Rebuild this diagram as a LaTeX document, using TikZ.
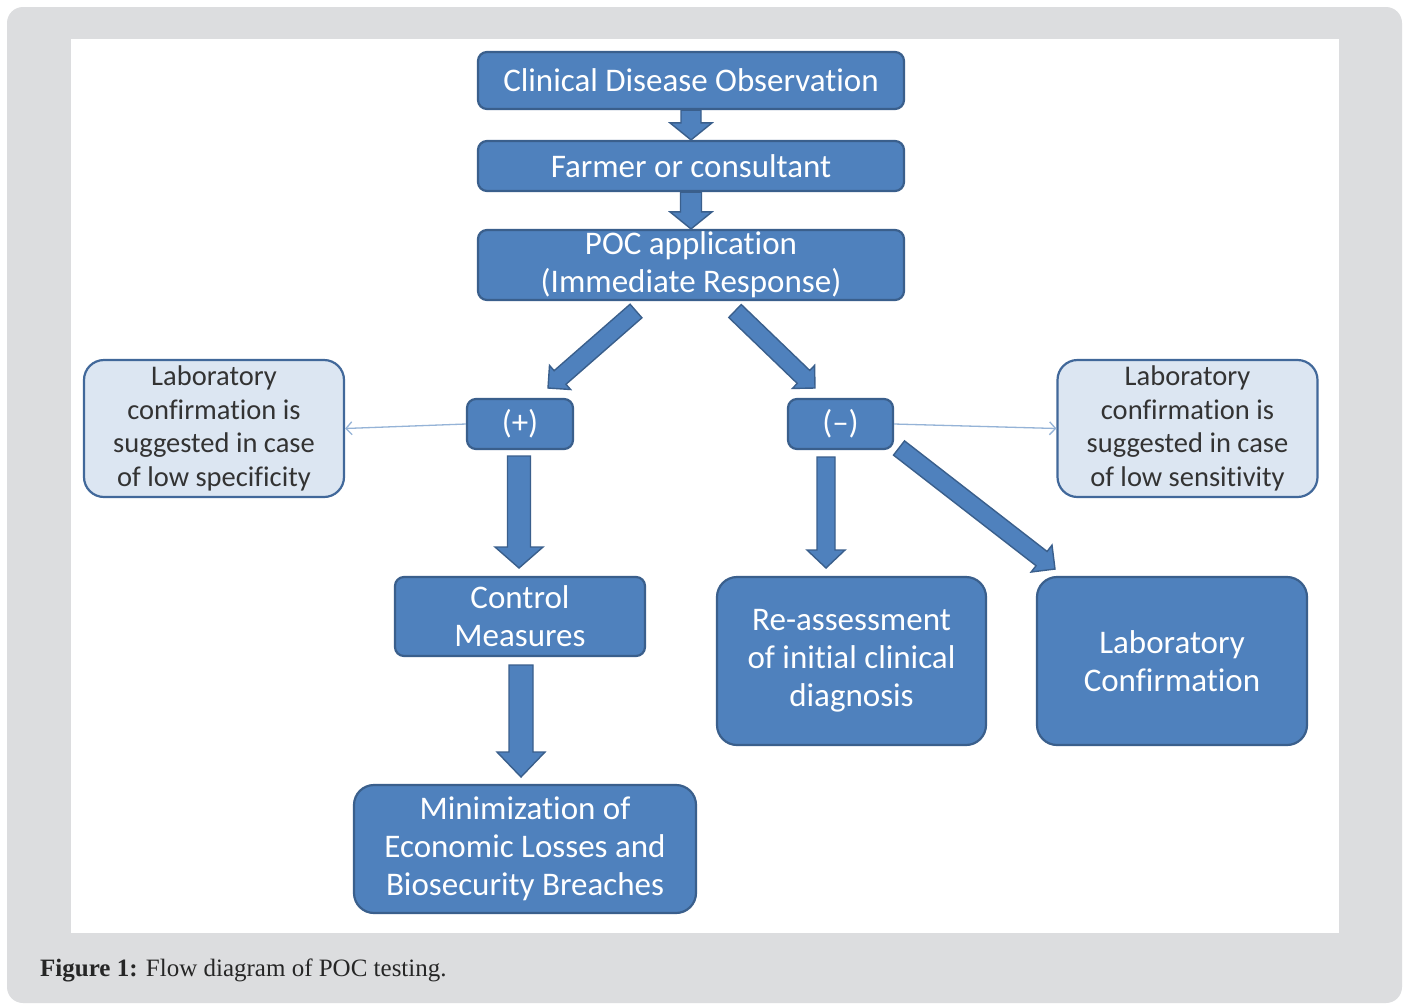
\documentclass[tikz,border=0pt]{standalone}
\usepackage{fontspec}
\setmainfont{Carlito}[Ligatures=CommonOff]
\newfontfamily\capfont{Liberation Serif}
\usetikzlibrary{calc,arrows.meta}
\definecolor{boxfill}{HTML}{4F81BD}
\definecolor{boxline}{HTML}{3A5F8C}
\definecolor{lightfill}{HTML}{DCE6F2}
\definecolor{lightline}{HTML}{41689A}
\definecolor{thinline}{HTML}{95B3D7}
\definecolor{panelgray}{HTML}{DCDDDF}
\definecolor{textgray}{HTML}{333333}
\newcommand\blockarr[5]{%
  \coordinate (ba-h) at ($(#2)!#5!(#1)$);
  \filldraw[blockarrow] ($(#1)!#3!90:(#2)$) -- ($(ba-h)!#3!-90:(#1)$) -- ($(ba-h)!#4!-90:(#1)$) -- (#2) -- ($(ba-h)!#4!90:(#1)$) -- ($(ba-h)!#3!90:(#1)$) -- ($(#1)!#3!-90:(#2)$) -- cycle;}
\begin{document}
\begin{tikzpicture}[x=1pt,y=-1pt,
  darkbox/.style={draw=boxline, fill=boxfill, line width=2.2pt, rounded corners=9pt, text=white,
    font=\fontsize{33}{38}\selectfont, align=center, inner sep=0pt},
  bigbox/.style={darkbox, rounded corners=20pt},
  lightbox/.style={draw=lightline, fill=lightfill, line width=2.2pt, rounded corners=20pt, text=textgray,
    font=\fontsize{28.5}{33.5}\selectfont, align=center, inner sep=0pt,
    minimum width=260pt, minimum height=137pt},
  blockarrow/.style={fill=boxfill, draw=boxline, line width=1.4pt, line join=miter},
  thinarrow/.style={draw=thinline, line width=1.3pt, -{Straight Barb[length=6pt,width=13pt]}}]
\useasboundingbox (0,0) rectangle (1407,1005);
\fill[white] (0,0) rectangle (1407,1005);
\fill[panelgray, rounded corners=16pt] (7,7) rectangle (1402,1003);
\fill[white] (71,39) rectangle (1339,933);

\node[darkbox, minimum width=426pt, minimum height=57pt] (clin) at (691,80.5) {Clinical Disease Observation};
\node[darkbox, minimum width=426pt, minimum height=50pt] (farm) at (691,166) {Farmer or consultant};
\node[darkbox, minimum width=426pt, minimum height=70pt] (poc) at (691,265) {POC application\\(Immediate Response)};
\node[darkbox, minimum width=106pt, minimum height=50pt] (plus) at (520,424) {(+)};
\node[darkbox, minimum width=105pt, minimum height=50pt] (minus) at (840.5,424) {(--)};
\node[darkbox, minimum width=250pt, minimum height=79pt] (ctrl) at (520,616.5) {Control\\Measures};
\node[bigbox, minimum width=269pt, minimum height=168pt] (reas) at (851.5,661) {Re-assessment\\of initial clinical\\diagnosis};
\node[bigbox, minimum width=270pt, minimum height=168pt] (labc) at (1172,661) {Laboratory\\Confirmation};
\node[bigbox, minimum width=342pt, minimum height=128pt] (mini) at (525,849) {Minimization of\\Economic Losses and\\Biosecurity Breaches};
\node[lightbox] (lspec) at (214,428.5) {Laboratory\\confirmation is\\suggested in case\\of low specificity};
\node[lightbox] (lsens) at (1187.5,428.5) {Laboratory\\confirmation is\\suggested in case\\of low sensitivity};

\coordinate (a3s) at (636,311); \coordinate (a3e) at (548,388);
\coordinate (a4s) at (735,311); \coordinate (a4e) at (815,388);
\coordinate (a5s) at (519,456); \coordinate (a5e) at (519,568);
\coordinate (a6s) at (826,457); \coordinate (a6e) at (826,568);
\coordinate (a7s) at (899,448); \coordinate (a7e) at (1055,569);
\coordinate (a8s) at (521,665); \coordinate (a8e) at (521,777);

\blockarr{clin.south}{farm.north}{10pt}{21pt}{17pt}
\blockarr{farm.south}{poc.north}{10.5pt}{21pt}{17pt}
\blockarr{a3s}{a3e}{9pt}{16pt}{16pt}
\blockarr{a4s}{a4e}{9pt}{16pt}{16pt}
\blockarr{a5s}{a5e}{11.5pt}{24pt}{21pt}
\blockarr{a6s}{a6e}{9pt}{19pt}{18pt}
\blockarr{a7s}{a7e}{9pt}{17pt}{17pt}
\blockarr{a8s}{a8e}{12pt}{24pt}{25pt}

\draw[thinarrow] (plus.west) -- (lspec.east);
\draw[thinarrow] (minus.east) -- (lsens.west);

\node[anchor=west, inner sep=0pt, text=black!85, font=\capfont\fontsize{25}{30}\selectfont] (cap) at (40,970) {\textbf{Figure 1:} Flow diagram of POC testing.};
\end{tikzpicture}
\end{document}
